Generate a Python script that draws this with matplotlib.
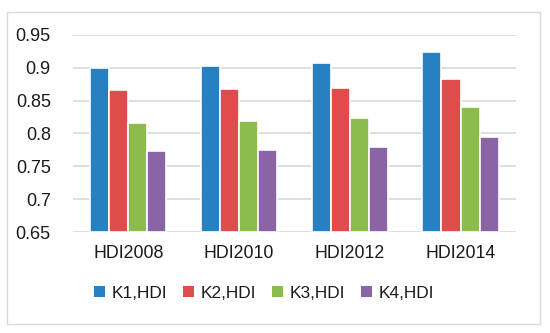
import matplotlib
matplotlib.use("Agg")
import matplotlib.pyplot as plt
import numpy as np
from matplotlib.patches import Rectangle

categories = ["HDI2008", "HDI2010", "HDI2012", "HDI2014"]
series_names = ["K1,HDI", "K2,HDI", "K3,HDI", "K4,HDI"]
k1 = [0.900, 0.903, 0.907, 0.924]
k2 = [0.866, 0.868, 0.870, 0.883]
k3 = [0.816, 0.819, 0.824, 0.840]
k4 = [0.773, 0.775, 0.779, 0.795]
colors = ["#2680C2", "#E04C4C", "#8CBB4E", "#8B64A6"]
yticks = [0.65, 0.7, 0.75, 0.8, 0.85, 0.9, 0.95]
ytick_labels = ["0.65", "0.7", "0.75", "0.8", "0.85", "0.9", "0.95"]

plt.rcParams['font.family'] = ['Liberation Sans', 'DejaVu Sans']

fig = plt.figure(figsize=(5.5, 3.33), dpi=100)
fig.patches.append(Rectangle((0.0127, 0.027), 0.969, 0.937, transform=fig.transFigure,
                             fill=False, edgecolor="#D9D9D9", linewidth=1.0))
ax = fig.add_axes([0.1327, 0.3033, 0.8053, 0.5916])

x = np.arange(len(categories))
slot = 0.172
data = [k1, k2, k3, k4]
for i, (vals, name, c) in enumerate(zip(data, series_names, colors)):
    ax.bar(x + (i - 1.5) * slot, np.array(vals) - 0.65, bottom=0.65, width=slot,
           color=c, edgecolor="white", linewidth=1.2, label=name, zorder=3)

ax.set_xlim(-0.5, 3.5)
ax.set_ylim(0.65, 0.95)
ax.set_yticks(yticks)
ax.set_yticklabels(ytick_labels, fontsize=13)
ax.set_xticks(x)
ax.set_xticklabels(categories, fontsize=12.8)
ax.tick_params(axis='both', length=0, colors="#1a1a1a")
ax.tick_params(axis='y', pad=16)
ax.tick_params(axis='x', pad=9)
ax.grid(axis='y', color="#D9D9D9", linewidth=1.2, zorder=0)
for s in ax.spines.values():
    s.set_visible(False)

leg = fig.legend(loc='center', bbox_to_anchor=(0.48, 0.12), ncol=4, frameon=False,
                 fontsize=12.4, handlelength=0.6, handleheight=0.6, handletextpad=0.4,
                 columnspacing=0.95)
for h in leg.legend_handles:
    h.set_edgecolor("none")
for t in leg.get_texts():
    t.set_color("#1a1a1a")

fig.savefig("out.png", dpi=100)
